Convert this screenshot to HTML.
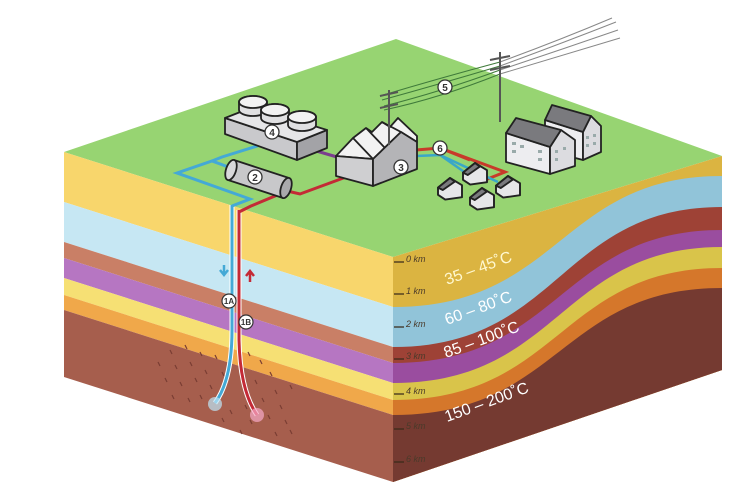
<!DOCTYPE html>
<html><head><meta charset="utf-8"><style>
html,body{margin:0;padding:0;background:#fff;}
svg{display:block;}
text{font-family:"Liberation Sans",sans-serif;}
</style></head><body>
<svg width="739" height="482" viewBox="0 0 739 482" xmlns="http://www.w3.org/2000/svg">
<polygon points="396,39 64,152 393,257 722,156" fill="#97d472"/>
<polygon points="64,152 393,257 393,307 64,202" fill="#f8d66c"/>
<polygon points="64,202 393,307 393,347 64,242" fill="#c6e7f3"/>
<polygon points="64,242 393,347 393,363 64,258" fill="#c97f66"/>
<polygon points="64,258 393,363 393,383 64,278" fill="#b676c2"/>
<polygon points="64,278 393,383 393,400 64,295" fill="#f6e074"/>
<polygon points="64,295 393,400 393,415 64,310" fill="#f0a84a"/>
<polygon points="64,310 393,415 393,482 64,377" fill="#a65e4d"/>
<polygon points="393,257 722,156 722,370 393,482" fill="#dbb441"/>
<path d="M393,307 C560,307 560,176 722,176 L722,370 L393,482Z" fill="#91c4d9"/>
<path d="M393,347 C560,347 560,207 722,207 L722,370 L393,482Z" fill="#9e4236"/>
<path d="M393,363 C560,363 560,230 722,230 L722,370 L393,482Z" fill="#9a4d9f"/>
<path d="M393,383 C560,383 560,247 722,247 L722,370 L393,482Z" fill="#d9c44a"/>
<path d="M393,400 C560,400 560,268 722,268 L722,370 L393,482Z" fill="#d5772b"/>
<path d="M393,415 C560,415 560,288 722,288 L722,370 L393,482Z" fill="#753a31"/>

<g stroke="#7a3e33" stroke-width="1.2" fill="none">
<path d="M170,350 l2,4 M185,345 l2,4 M200,352 l2,4 M175,365 l2,4 M190,362 l2,4 M205,370 l2,4 M165,378 l2,4 M180,382 l2,4 M195,378 l2,4 M210,385 l2,4 M172,395 l2,4 M188,398 l2,4 M200,395 l2,4 M260,360 l2,4 M270,372 l2,4 M255,380 l2,4 M275,390 l2,4 M262,398 l2,4 M280,405 l2,4 M245,405 l2,4 M268,415 l2,4 M285,420 l2,4 M250,420 l2,4 M230,410 l2,4 M240,430 l2,4 M222,418 l2,4 M215,355 l2,4 M222,372 l2,4 M248,352 l2,4 M290,385 l2,4 M158,362 l2,4 M290,430 l2,4 M275,432 l2,4"/>
</g>

<path d="M232,205 L232,330 Q232,380 215,403" stroke="#fff" stroke-width="5" fill="none"/>
<path d="M232,205 L232,330 Q232,380 215,403" stroke="#44a9d6" stroke-width="3" fill="none"/>
<path d="M239,210 L239,340 Q240,390 257,415" stroke="#fff" stroke-width="5" fill="none"/>
<path d="M239,210 L239,340 Q240,390 257,415" stroke="#c42a36" stroke-width="3" fill="none"/>
<circle cx="215" cy="404" r="7" fill="#bfe6f6" opacity="0.7"/>
<circle cx="257" cy="415" r="7" fill="#f6a9c8" opacity="0.7"/>
<path d="M224,265 v8 M220,270 l4,5 l4,-5" stroke="#44a9d6" stroke-width="2.5" fill="none"/>
<path d="M250,282 v-10 M246,276 l4,-5 l4,5" stroke="#c42a36" stroke-width="2.5" fill="none"/>
<g font-size="8" font-weight="bold" fill="#333" text-anchor="middle">
<circle cx="229" cy="301" r="7" fill="#fff" stroke="#333" stroke-width="1.2"/><text x="229" y="304">1A</text>
<circle cx="246" cy="322" r="7" fill="#fff" stroke="#333" stroke-width="1.2"/><text x="246" y="325">1B</text>
</g>

<path d="M232,206 L250,199 L177,173 L212,161 L250,175 M212,161 L222,157 L270,142" stroke="#44a9d6" stroke-width="3" fill="none"/>
<path d="M239,212 L251,206 L287,191 L300,194 L357,173" stroke="#c42a36" stroke-width="3" fill="none"/>
<path d="M313,150 L337,157" stroke="#7b3e8e" stroke-width="3"/>
<path d="M416,150 L440,148 L505,172 L485,180 M440,148 L470,160" stroke="#c83a2a" stroke-width="3" fill="none"/>
<path d="M416,156 L440,155 L498,182 M440,155 L470,176" stroke="#3aa7c8" stroke-width="2.5" fill="none"/>

<g stroke="#222" stroke-width="1.8" stroke-linejoin="round">
<polygon points="225,118 297,142 297,160 225,134" fill="#c9c9cc"/>
<polygon points="297,142 327,130 327,148 297,160" fill="#a3a3a7"/>
<polygon points="225,118 253,107 327,130 297,142" fill="#e6e6e8"/>
<g fill="#e0e0e2">
<path d="M239,110 v-8 a14,6 0 0 1 28,0 v8 a14,6 0 0 1 -28,0Z"/><ellipse cx="253" cy="102" rx="14" ry="6" fill="#f2f2f2"/>
<path d="M261,118 v-8 a14,6 0 0 1 28,0 v8 a14,6 0 0 1 -28,0Z"/><ellipse cx="275" cy="110" rx="14" ry="6" fill="#f2f2f2"/>
<path d="M288,125 v-8 a14,6 0 0 1 28,0 v8 a14,6 0 0 1 -28,0Z"/><ellipse cx="302" cy="117" rx="14" ry="6" fill="#f2f2f2"/>
</g>
</g>
<circle cx="272" cy="132" r="7" fill="#fff" stroke="#333" stroke-width="1.3"/><text x="272" y="136" font-size="10" font-weight="bold" text-anchor="middle" fill="#333">4</text>

<g stroke="#222" stroke-width="1.8">
<path d="M234,160 L289,178 L283,198 L228,180Z" fill="#c8c8ca" stroke="none"/>
<path d="M234,160 L289,178 M228,180 L283,198" />
<ellipse cx="231" cy="170" rx="5" ry="10.5" transform="rotate(18 231 170)" fill="#d8d8da"/>
<ellipse cx="286" cy="188" rx="5" ry="10.5" transform="rotate(18 286 188)" fill="#a9a9ac"/>
</g>
<circle cx="255" cy="177" r="7" fill="#fff" stroke="#333" stroke-width="1.3"/><text x="255" y="181" font-size="10" font-weight="bold" text-anchor="middle" fill="#333">2</text>

<g stroke="#222" stroke-width="1.8" stroke-linejoin="round">
<polygon points="336,156 353,138 366,128 372,132 382,122 390,127 398,118 417,136 417,142 401,132 373,159" fill="#f2f2f2"/>
<path d="M366,128 L385,148 M382,122 L401,132 M353,138 L373,159" fill="none"/>
<polygon points="336,156 373,159 373,186 336,176" fill="#cfcfd1"/>
<polygon points="373,159 401,132 417,142 417,169 373,186" fill="#b4b4b7"/>
</g>
<circle cx="401" cy="167" r="7" fill="#fff" stroke="#333" stroke-width="1.3"/><text x="401" y="171" font-size="10" font-weight="bold" text-anchor="middle" fill="#333">3</text>

<g fill="none" stroke-width="1">
<path d="M380,96 Q440,78 500,62" stroke="#3f7a3a"/>
<path d="M382,100 Q440,84 500,66" stroke="#3f7a3a"/>
<path d="M384,106 Q440,92 500,70" stroke="#3f7a3a"/>
<path d="M384,110 Q440,98 500,74" stroke="#3f7a3a"/>
<path d="M500,62 Q560,40 612,18 M500,66 Q560,44 616,22 M500,70 Q560,50 618,30 M500,74 Q560,56 620,38" stroke="#888"/>
</g>
<g stroke="#555" stroke-width="2">
<path d="M389,90 V145 M380,96 L398,92 M380,108 L398,104"/>
<path d="M500,52 V122 M490,60 L510,56 M490,70 L510,66"/>
</g>
<circle cx="445" cy="87" r="7" fill="#fff" stroke="#333" stroke-width="1.3"/><text x="445" y="91" font-size="10" font-weight="bold" text-anchor="middle" fill="#333">5</text>
<circle cx="440" cy="148" r="7" fill="#fff" stroke="#333" stroke-width="1.3"/><text x="440" y="152" font-size="10" font-weight="bold" text-anchor="middle" fill="#333">6</text>

<g stroke="#222" stroke-width="1.8" stroke-linejoin="round">
<polygon points="545,120 583,132 583,160 545,150" fill="#ededf0"/>
<polygon points="583,132 591,116 601,126 601,152 583,160" fill="#dcdce0"/>
<polygon points="552,105 545,120 583,132 591,116" fill="#7a7a7e"/>
<polygon points="506,133 550,147 550,174 506,162" fill="#ededf0"/>
<polygon points="550,147 561,130 575,140 575,166 550,174" fill="#dcdce0"/>
<polygon points="516,118 506,133 550,147 561,130" fill="#7a7a7e"/>
</g>
<g fill="#9aa">
<rect x="512" y="142" width="4" height="3"/><rect x="520" y="145" width="4" height="3"/><rect x="538" y="150" width="4" height="3"/><rect x="512" y="150" width="4" height="3"/><rect x="538" y="158" width="4" height="3"/>
<rect x="555" y="150" width="3" height="3"/><rect x="563" y="147" width="3" height="3"/><rect x="555" y="158" width="3" height="3"/>
<rect x="586" y="136" width="3" height="3"/><rect x="593" y="134" width="3" height="3"/><rect x="586" y="144" width="3" height="3"/><rect x="593" y="142" width="3" height="3"/>
</g>
<g stroke="#222" stroke-width="1.6" stroke-linejoin="round">
<g transform="translate(438,178) scale(1.2)"><polygon points="0,8 10,0 20,6 20,16 6,18 0,14" fill="#e6e6e8"/><polygon points="0,8 10,0 14,3 4,10" fill="#7a7a7e"/></g>
<g transform="translate(463,163) scale(1.2)"><polygon points="0,8 10,0 20,6 20,16 6,18 0,14" fill="#e6e6e8"/><polygon points="0,8 10,0 14,3 4,10" fill="#7a7a7e"/></g>
<g transform="translate(470,188) scale(1.2)"><polygon points="0,8 10,0 20,6 20,16 6,18 0,14" fill="#e6e6e8"/><polygon points="0,8 10,0 14,3 4,10" fill="#7a7a7e"/></g>
<g transform="translate(496,176) scale(1.2)"><polygon points="0,8 10,0 20,6 20,16 6,18 0,14" fill="#e6e6e8"/><polygon points="0,8 10,0 14,3 4,10" fill="#7a7a7e"/></g>
</g>

<g stroke="#3a2a1a" stroke-width="1.3">
<path d="M394,262 h10 M394,294 h10 M394,327 h10 M394,359 h10 M394,394 h10 M394,429 h10 M394,462 h10"/>
</g>
<g font-size="9" font-style="italic" fill="#4a3a2a">
<text x="406" y="262">0 km</text><text x="406" y="294">1 km</text><text x="406" y="327">2 km</text><text x="406" y="359">3 km</text><text x="406" y="394">4 km</text><text x="406" y="429">5 km</text><text x="406" y="462">6 km</text>
</g>
<g font-size="16" fill="#fff">
<text transform="translate(447,285) rotate(-20)" fill="#fff8d0">35 – 45˚C</text>
<text transform="translate(447,325) rotate(-20)">60 – 80˚C</text>
<text transform="translate(446,358) rotate(-20)">85 – 100˚C</text>
<text transform="translate(447,422) rotate(-20)">150 – 200˚C</text>
</g>
</svg>
</body></html>
